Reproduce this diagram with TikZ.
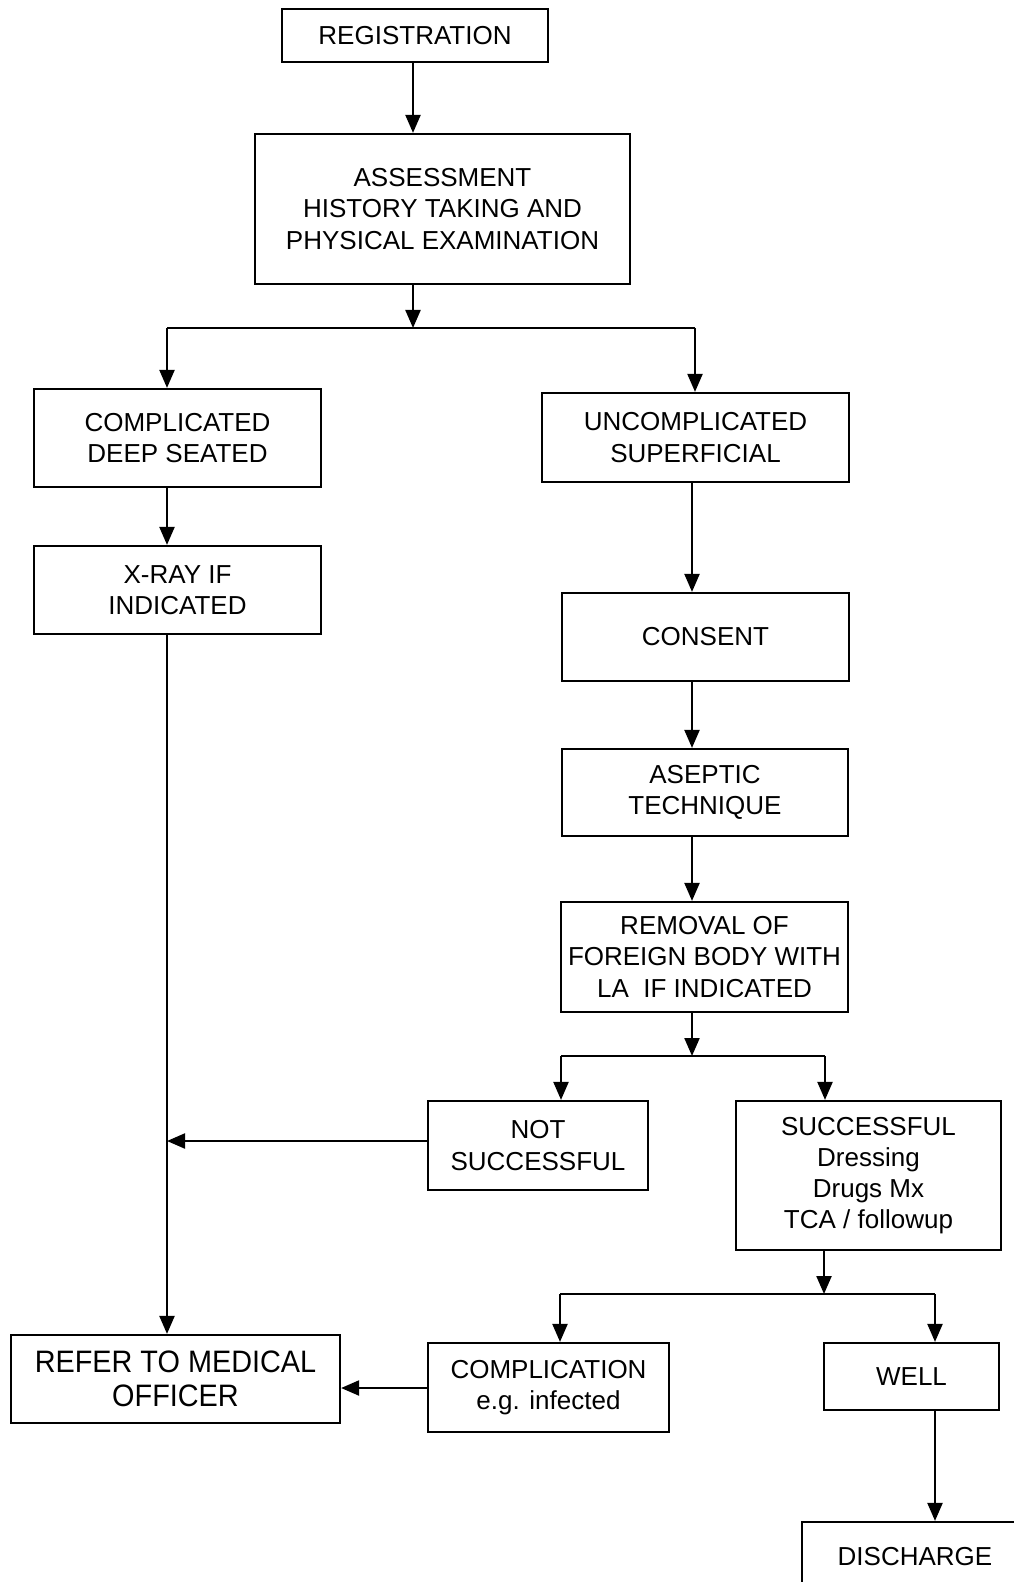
\documentclass[tikz,border=0pt]{standalone}
\usepackage{fontspec}
\setmainfont{Liberation Sans}
\newfontfamily\narrowsans[FakeStretch=0.93]{Liberation Sans}
\usetikzlibrary{arrows.meta}
\begin{document}
\begin{tikzpicture}[x=0.5pt,y=-0.5pt,
  box/.style={draw, line width=1.1pt, align=center, inner sep=0pt,
    font=\fontsize{13}{15.6}\selectfont},
  bigbox/.style={box, font=\narrowsans\fontsize{15.5}{16.7}\selectfont},
  flow/.style={line width=1.1pt, -{Triangle[length=9pt,width=7.5pt]}},
  link/.style={line width=1.1pt}]
\useasboundingbox (0,0) rectangle (1013,1582);
\fill[white] (0,0) rectangle (1013,1582);

% boxes
\node[box, minimum width=133pt, minimum height=26.5pt] (reg) at (415,35.5) {REGISTRATION};
\node[box, minimum width=187.5pt, minimum height=75pt] (assess) at (442.5,209)
  {ASSESSMENT\\HISTORY TAKING AND\\PHYSICAL EXAMINATION};
\node[box, minimum width=143.5pt, minimum height=49pt] (comp) at (177.5,438)
  {COMPLICATED\\DEEP SEATED};
\node[box, minimum width=153.5pt, minimum height=44.5pt] (uncomp) at (695.5,437.5)
  {UNCOMPLICATED\\SUPERFICIAL};
\node[box, minimum width=143.5pt, minimum height=44pt] (xray) at (177.5,590)
  {X-RAY IF\\INDICATED};
\node[box, minimum width=143.5pt, minimum height=44pt] (consent) at (705.5,637) {CONSENT};
\node[box, minimum width=143pt, minimum height=43.5pt] (aseptic) at (705,792.5)
  {ASEPTIC\\TECHNIQUE};
\node[box, minimum width=143.5pt, minimum height=55pt] (removal) at (704.5,957)
  {REMOVAL OF\\FOREIGN BODY WITH\\LA\ \ IF INDICATED};
\node[box, minimum width=110pt, minimum height=44.5pt] (notsucc) at (538,1145.5)
  {NOT\\SUCCESSFUL};
\node[box, minimum width=132.5pt, minimum height=74.5pt] (succ) at (868.5,1175.5)
  {SUCCESSFUL\\Dressing\\Drugs Mx\\TCA / followup};
\node[box, minimum width=120.5pt, minimum height=44.5pt] (compl) at (548.5,1387.5)
  {COMPLICATION\\e.g. infected};
\node[box, minimum width=87.5pt, minimum height=33.5pt] (well) at (911.5,1376.5) {WELL};
\node[bigbox, minimum width=164.5pt, minimum height=44pt] (refer) at (175.5,1379)
  {REFER TO MEDICAL\\OFFICER};
\node[box, minimum width=113pt, minimum height=35pt] (discharge) at (915,1557) {DISCHARGE};

% junction points
\coordinate (s1) at (413,328);
\coordinate (s1l) at (167,328);
\coordinate (s1r) at (695,328);
\coordinate (rc) at (692,0);
\coordinate (s2) at (692,1056);
\coordinate (s2l) at (561,1056);
\coordinate (s2r) at (825,1056);
\coordinate (s3) at (824,1294);
\coordinate (s3l) at (560,1294);
\coordinate (s3r) at (935,1294);
\coordinate (join) at (167,1141);

% connectors
\draw[flow] (reg.south -| s1) -- (assess.north -| s1);
\draw[flow] (assess.south -| s1) -- (s1);
\draw[link] (s1l) -- (s1r);
\draw[flow] (s1l) -- (comp.north -| s1l);
\draw[flow] (s1r) -- (uncomp.north -| s1r);
\draw[flow] (comp.south -| s1l) -- (xray.north -| s1l);
\draw[flow] (xray.south -| s1l) -- (refer.north -| s1l);
\draw[flow] (uncomp.south -| rc) -- (consent.north -| rc);
\draw[flow] (consent.south -| rc) -- (aseptic.north -| rc);
\draw[flow] (aseptic.south -| rc) -- (removal.north -| rc);
\draw[flow] (removal.south -| rc) -- (s2);
\draw[link] (s2l) -- (s2r);
\draw[flow] (s2l) -- (notsucc.north -| s2l);
\draw[flow] (s2r) -- (succ.north -| s2r);
\draw[flow] (notsucc.west |- join) -- (join);
\draw[flow] (succ.south -| s3) -- (s3);
\draw[link] (s3l) -- (s3r);
\draw[flow] (s3l) -- (compl.north -| s3l);
\draw[flow] (s3r) -- (well.north -| s3r);
\draw[flow] (compl.west |- 0,1388) -- (refer.east |- 0,1388);
\draw[flow] (well.south -| s3r) -- (discharge.north -| s3r);
\end{tikzpicture}
\end{document}
